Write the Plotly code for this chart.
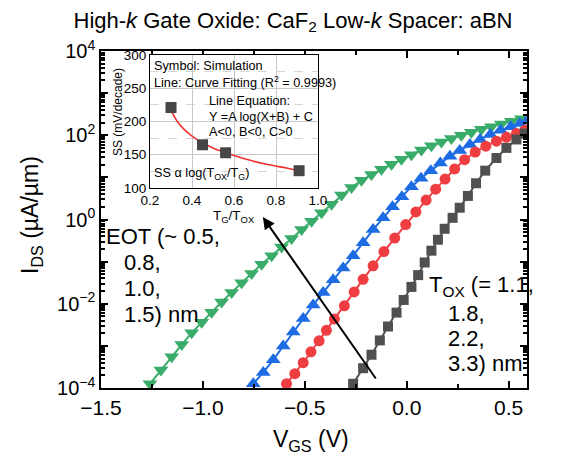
import numpy as np
import plotly.graph_objects as go

# ---------------- data ----------------
# Main plot: V_GS (V) and log10(I_DS [uA/um])
v_tox33 = [-0.263, -0.214, -0.173, -0.132, -0.092, -0.050, -0.015, 0.023, 0.056, 0.088, 0.121,
           0.153, 0.186, 0.225, 0.260, 0.300, 0.340, 0.385, 0.440, 0.489, 0.538, 0.578]
logi_tox33 = [-3.90, -3.53, -3.21, -2.87, -2.54, -2.21, -1.91, -1.60, -1.32, -1.02, -0.74,
              -0.48, -0.22, 0.04, 0.28, 0.56, 0.86, 1.16, 1.46, 1.70, 1.90, 2.04]

v_tox22 = [-0.590, -0.549, -0.508, -0.470, -0.430, -0.394, -0.355, -0.306, -0.258, -0.214, -0.165,
           -0.112, -0.059, -0.005, 0.045, 0.095, 0.142, 0.188, 0.235, 0.284, 0.336, 0.388,
           0.440, 0.489, 0.538, 0.580]
logi_tox22 = [-3.90, -3.66, -3.40, -3.14, -2.88, -2.63, -2.36, -2.05, -1.72, -1.42, -1.10,
              -0.76, -0.44, -0.12, 0.18, 0.46, 0.72, 0.96, 1.20, 1.42, 1.60, 1.74,
              1.86, 1.95, 2.04, 2.12]

v_tox18 = [-0.753, -0.704, -0.655, -0.606, -0.557, -0.508, -0.459, -0.410, -0.361, -0.312, -0.263,
           -0.214, -0.165, -0.116, -0.070, -0.024, 0.023, 0.070, 0.118, 0.165, 0.212, 0.260,
           0.310, 0.360, 0.410, 0.460, 0.510, 0.555, 0.590]
logi_tox18 = [-3.90, -3.63, -3.33, -3.00, -2.67, -2.35, -2.03, -1.73, -1.43, -1.15, -0.86,
              -0.55, -0.24, 0.04, 0.30, 0.54, 0.78, 0.98, 1.16, 1.34, 1.50, 1.64,
              1.78, 1.90, 2.02, 2.12, 2.20, 2.28, 2.34]

v_tox11 = [-1.260, -1.206, -1.153, -1.104, -1.055, -1.006, -0.957, -0.908, -0.859, -0.810, -0.761,
           -0.712, -0.663, -0.614, -0.565, -0.516, -0.467, -0.418, -0.369, -0.320, -0.271, -0.222,
           -0.173, -0.124, -0.075, -0.026, 0.023, 0.072, 0.121, 0.170, 0.219, 0.268, 0.317,
           0.366, 0.415, 0.464, 0.513, 0.562]
logi_tox11 = [-3.90, -3.57, -3.26, -2.97, -2.69, -2.44, -2.20, -1.96, -1.73, -1.50, -1.28,
              -1.06, -0.86, -0.65, -0.45, -0.24, -0.04, 0.16, 0.36, 0.58, 0.76, 0.93,
              1.07, 1.19, 1.31, 1.43, 1.54, 1.65, 1.75, 1.84, 1.92, 2.00, 2.07,
              2.14, 2.20, 2.27, 2.33, 2.39]

# Inset: SS vs T_G/T_OX
ss_x = [0.30, 0.45, 0.56, 0.91]
ss_y = [221, 165, 153, 126]
fit_x = [0.30, 0.33, 0.36, 0.40, 0.45, 0.50, 0.56, 0.65, 0.75, 0.85, 0.91]
fit_y = [217, 200, 189, 178, 168, 160, 153, 144, 136, 130, 126]

y_major = [1e-4, 1e-3, 1e-2, 1e-1, 1e0, 1e1, 1e2, 1e3, 1e4]
y_major_text = ["10<sup>\u22124</sup>", "", "10<sup>\u22122</sup>", "", "10<sup>0</sup>", "",
                "10<sup>2</sup>", "", "10<sup>4</sup>"]
x_major = [-1.5, -1.0, -0.5, 0.0, 0.5]

# ---------------- styling ----------------
FONT = "Arial, Liberation Sans, sans-serif"
C_GREEN = "rgb(56,172,104)"
C_BLUE = "rgb(30,108,228)"
C_RED = "rgb(238,62,66)"
C_GREY = "rgb(80,80,80)"

OFF = 8                      # default page body margin of the html page
WIN_W, WIN_H = 577, 462
W, H = WIN_W - 2 * OFF, WIN_H - 2 * OFF
# plot-area edges in screenshot pixels
L, R, T, B = 101, 527, 51, 388


def px(x):
    return (x - L) / (R - L)


def py(y):
    return (B - y) / (B - T)


fig = go.Figure()

series = [
    (v_tox11, logi_tox11, C_GREEN, "triangle-down", 13),
    (v_tox18, logi_tox18, C_BLUE, "triangle-up", 13),
    (v_tox22, logi_tox22, C_RED, "circle", 11),
    (v_tox33, logi_tox33, C_GREY, "square", 10),
]
for v, lg, col, sym, size in series:
    fig.add_trace(go.Scatter(
        x=v, y=[10 ** a for a in lg], mode="lines+markers",
        line=dict(color=col, width=2),
        marker=dict(symbol=sym, size=size, color=col),
        showlegend=False, xaxis="x", yaxis="y"))

# inset
fig.add_trace(go.Scatter(x=fit_x, y=fit_y, mode="lines",
                         line=dict(color="rgb(240,50,50)", width=1.6, shape="spline"),
                         showlegend=False, xaxis="x2", yaxis="y2"))
fig.add_trace(go.Scatter(x=ss_x, y=ss_y, mode="markers",
                         marker=dict(symbol="square", size=11, color="rgb(70,70,70)"),
                         showlegend=False, xaxis="x2", yaxis="y2"))

minor_y = [k * 10.0 ** n for n in range(-4, 4) for k in range(2, 10)]

fig.update_layout(
    width=W, height=H, autosize=False,
    margin=dict(l=L - OFF, r=W - (R - OFF), t=T - OFF, b=H - (B - OFF), pad=0),
    paper_bgcolor="white", plot_bgcolor="white",
    font=dict(family=FONT, color="black"),
    title=dict(text="High-<i>k</i> Gate Oxide: CaF<sub>2</sub> Low-<i>k</i> Spacer: aBN",
               x=(293 - OFF) / W, xanchor="center", y=1 - (20 - OFF) / H, yanchor="middle",
               font=dict(size=22, family=FONT, color="black")),
    xaxis=dict(range=[-1.5, 0.59], tickvals=x_major, tickformat=".1f",
               ticks="inside", ticklen=7, tickwidth=1.5, tickcolor="black",
               minor=dict(dtick=0.25, tick0=0, ticks="inside", ticklen=4, tickcolor="black"),
               showline=True, linecolor="black", linewidth=1.5, mirror="ticks",
               showgrid=False, zeroline=False, tickfont=dict(size=21)),
    yaxis=dict(type="log", range=[-4, 4], tickvals=y_major, ticktext=y_major_text,
               ticks="inside", ticklen=7, tickwidth=1.5, tickcolor="black",
               minor=dict(tickvals=minor_y, ticks="inside", ticklen=4, tickcolor="black"),
               showline=True, linecolor="black", linewidth=1.5, mirror="ticks",
               showgrid=False, zeroline=False, tickfont=dict(size=20)),
    xaxis2=dict(domain=[px(150), px(318)], anchor="y2", range=[0.2, 1.0], dtick=0.2,
                tickformat=".1f", ticks="", showline=True, linecolor="black", linewidth=1,
                mirror=True, showgrid=True, gridcolor="rgb(200,200,200)", gridwidth=1,
                zeroline=False, tickfont=dict(size=13.5)),
    yaxis2=dict(domain=[py(188), py(55)], anchor="x2", range=[100, 300], dtick=50,
                ticks="", showline=True, linecolor="black", linewidth=1, mirror=True,
                showgrid=True, gridcolor="rgb(200,200,200)", gridwidth=1,
                minor=dict(dtick=25, tick0=0, showgrid=True, griddash="dash",
                           gridcolor="rgb(215,215,215)", gridwidth=1),
                zeroline=False, tickfont=dict(size=13.5)),
)

ann = []


def text(x, y, s, size, anchor="left"):
    ann.append(dict(x=px(x), y=py(y), xref="paper", yref="paper", text=s, showarrow=False,
                    xanchor=anchor, yanchor="middle", font=dict(size=size, family=FONT, color="black")))


# axis titles
ann.append(dict(x=px(31), y=py(215), xref="paper", yref="paper",
                text="I<sub>DS</sub> (\u00b5A/\u00b5m)", textangle=-90, showarrow=False,
                xanchor="center", yanchor="middle", font=dict(size=23, family=FONT)))
text(311, 440, "V<sub>GS</sub> (V)", 23, "center")

# main annotations
text(104, 236, "EOT (~ 0.5,", 22)
text(122, 262, "0.8,", 22)
text(122, 288, "1.0,", 22)
text(122, 314, "1.5) nm", 22)
text(427, 286, "T<sub>OX</sub> (= 1.1,", 22)
text(446, 313, "1.8,", 22)
text(446, 338, "2.2,", 22)
text(446, 363, "3.3) nm", 22)

# inset annotations
IS = 12.7
text(152, 66, "Symbol: Simulation", IS)
text(152, 82, "Line: Curve Fitting (R<sup>2</sup> = 0.9993)", IS)
text(207, 101, "Line Equation:", IS)
text(207, 117, "Y =A log(X+B) + C", IS)
text(207, 132, "A&lt;0, B&lt;0, C&gt;0", IS)
text(152, 174, "SS \u03b1 log(T<sub>OX</sub>/T<sub>G</sub>)", IS)
ann.append(dict(x=px(118), y=py(112), xref="paper", yref="paper", text="SS (mV/decade)",
                textangle=-90, showarrow=False, xanchor="center", yanchor="middle",
                font=dict(size=12, family=FONT)))
text(234, 216, "T<sub>G</sub>/T<sub>OX</sub>", 13.5, "center")

# arrow
ann.append(dict(x=(263 - 407) / 204, y=-4 + (388 - 217) / ((B - T) / 8), xref="x", yref="y",
                ax=114, ay=163, axref="pixel", ayref="pixel", text="", showarrow=True,
                arrowhead=2, arrowsize=1.2, arrowwidth=2, arrowcolor="black"))

fig.update_layout(annotations=ann)
fig.write_html("out.html")
